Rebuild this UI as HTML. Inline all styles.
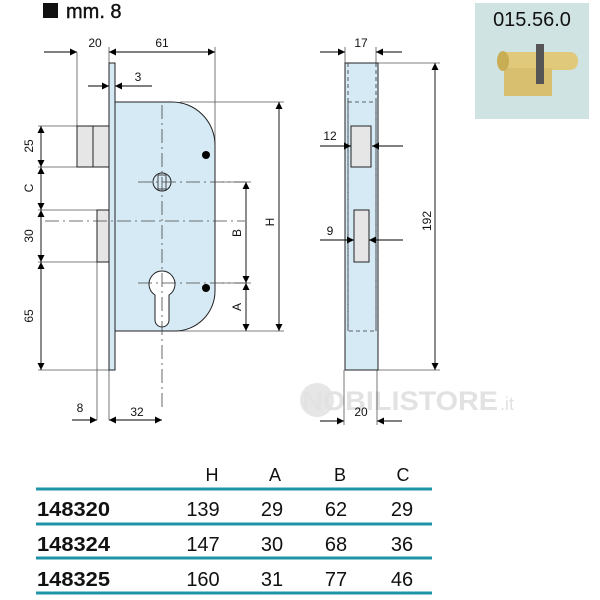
<!DOCTYPE html>
<html><head><meta charset="utf-8"><style>
body{margin:0;background:#fff}
svg{display:block}
text{font-family:"Liberation Sans",sans-serif}
</style></head><body>
<svg width="600" height="600" viewBox="0 0 600 600" xmlns="http://www.w3.org/2000/svg">
<defs>
<marker id="a" viewBox="0 0 10 10" refX="10" refY="5" markerWidth="10" markerHeight="7" orient="auto-start-reverse" markerUnits="userSpaceOnUse"><path d="M0,0L10,5L0,10z" fill="#000"/></marker>
</defs>
<!-- title -->
<rect x="43" y="3" width="15" height="15" fill="#111"/>
<text x="66" y="18" font-size="20" fill="#111" stroke="#111" stroke-width="0.4">mm. 8</text>

<!-- watermark -->
<circle cx="317" cy="400" r="17" fill="#e6e6e6"/>
<text x="302" y="410" font-size="27" font-weight="bold" fill="#e2e2e2" textLength="196" lengthAdjust="spacingAndGlyphs">NOBILISTORE</text>
<text x="500" y="410" font-size="18" fill="#e2e2e2">.it</text>

<g stroke="#555" stroke-width="0.8" fill="none">
<line x1="77" y1="52" x2="77" y2="126"/>
<line x1="215" y1="47" x2="215" y2="150"/>
<line x1="109" y1="47" x2="109" y2="63"/>
<line x1="115" y1="80" x2="115" y2="102"/>
<line x1="180" y1="102" x2="284" y2="102"/>
<line x1="160" y1="331" x2="284" y2="331"/>
<line x1="222" y1="182" x2="251" y2="182"/>
<line x1="222" y1="283" x2="251" y2="283"/>
<line x1="38" y1="126" x2="77" y2="126"/>
<line x1="38" y1="167" x2="77" y2="167"/>
<line x1="38" y1="210" x2="97" y2="210"/>
<line x1="38" y1="262" x2="97" y2="262"/>
<line x1="38" y1="370" x2="109" y2="370"/>
<line x1="97" y1="262" x2="97" y2="420"/>
<line x1="109" y1="370" x2="109" y2="420"/>
<line x1="345" y1="47" x2="345" y2="63"/>
<line x1="376" y1="47" x2="376" y2="63"/>
<line x1="378" y1="63" x2="440" y2="63"/>
<line x1="378" y1="370" x2="440" y2="370"/>
<line x1="344" y1="370" x2="344" y2="425"/>
<line x1="377" y1="370" x2="377" y2="425"/>
</g>

<!-- bolts -->
<rect x="77" y="126" width="32" height="41" fill="#e6e6e6" stroke="#222" stroke-width="1"/>
<line x1="93" y1="126" x2="93" y2="167" stroke="#222"/>
<rect x="97" y="210" width="12" height="52" fill="#e6e6e6" stroke="#222" stroke-width="1"/>
<rect x="109" y="63" width="6" height="307" fill="#d6eaf5" stroke="#222" stroke-width="1"/>
<path d="M115,102 H172 A43,43 0 0 1 215,145 V291 A40,40 0 0 1 175,331 H115 Z" fill="#d6eaf5" stroke="#222" stroke-width="1"/>
<circle cx="162" cy="182" r="9" fill="none" stroke="#222"/>
<rect x="158" y="175" width="8" height="14" fill="none" stroke="#222" stroke-width="0.8"/>
<path d="M155,295 A13,13 0 1 1 169,295 V320 A7,7 0 0 1 155,320 Z" fill="#fff" stroke="#222"/>
<circle cx="206" cy="155" r="4" fill="#000"/>
<circle cx="206" cy="288" r="4" fill="#000"/>

<g stroke="#444" stroke-width="0.8" stroke-dasharray="14,4,2,4" fill="none">
<line x1="162" y1="105" x2="162" y2="410"/>
<line x1="138" y1="182" x2="245" y2="182"/>
<line x1="45" y1="221" x2="245" y2="221"/>
<line x1="138" y1="283" x2="245" y2="283"/>
</g>

<!-- faceplate -->
<rect x="345" y="63" width="33" height="307" fill="#d6eaf5" stroke="#222" stroke-width="1"/>
<g stroke="#333" stroke-width="0.8" fill="none" stroke-dasharray="4,3">
<line x1="348" y1="63" x2="348" y2="331"/>
<line x1="376" y1="63" x2="376" y2="331"/>
<rect x="348" y="102" width="28" height="229"/>
</g>
<rect x="351" y="126" width="20" height="41" fill="#e6e6e6" stroke="#222"/>
<rect x="354" y="210" width="15" height="52" fill="#e6e6e6" stroke="#222"/>

<!-- dims -->
<g stroke="#000" stroke-width="0.9" fill="none">
<line x1="44" y1="52" x2="77" y2="52" marker-end="url(#a)"/>
<line x1="109" y1="52" x2="215" y2="52" marker-start="url(#a)" marker-end="url(#a)"/>
<line x1="88" y1="86" x2="109" y2="86" marker-end="url(#a)"/>
<line x1="152" y1="86" x2="115" y2="86" marker-end="url(#a)"/>
<line x1="279" y1="102" x2="279" y2="331" marker-start="url(#a)" marker-end="url(#a)"/>
<line x1="246" y1="182" x2="246" y2="283" marker-start="url(#a)" marker-end="url(#a)"/>
<line x1="246" y1="283" x2="246" y2="331" marker-start="url(#a)" marker-end="url(#a)"/>
<line x1="41" y1="126" x2="41" y2="167" marker-start="url(#a)" marker-end="url(#a)"/>
<line x1="41" y1="167" x2="41" y2="210" marker-start="url(#a)" marker-end="url(#a)"/>
<line x1="41" y1="210" x2="41" y2="262" marker-start="url(#a)" marker-end="url(#a)"/>
<line x1="41" y1="262" x2="41" y2="370" marker-start="url(#a)" marker-end="url(#a)"/>
<line x1="72" y1="420" x2="97" y2="420" marker-end="url(#a)"/>
<line x1="109" y1="420" x2="162" y2="420" marker-start="url(#a)" marker-end="url(#a)"/>
<line x1="320" y1="52" x2="345" y2="52" marker-end="url(#a)"/>
<line x1="402" y1="52" x2="376" y2="52" marker-end="url(#a)"/>
<line x1="435" y1="63" x2="435" y2="370" marker-start="url(#a)" marker-end="url(#a)"/>
<line x1="320" y1="146" x2="351" y2="146" marker-end="url(#a)"/>
<line x1="403" y1="146" x2="372" y2="146" marker-end="url(#a)"/>
<line x1="320" y1="240" x2="354" y2="240" marker-end="url(#a)"/>
<line x1="403" y1="240" x2="369" y2="240" marker-end="url(#a)"/>
<line x1="320" y1="421" x2="344" y2="421" marker-end="url(#a)"/>
<line x1="402" y1="421" x2="377" y2="421" marker-end="url(#a)"/>
</g>

<g font-size="12" fill="#111">
<text x="95" y="47" text-anchor="middle">20</text>
<text x="162" y="47" text-anchor="middle">61</text>
<text x="138" y="81" text-anchor="middle">3</text>
<text x="80" y="412" text-anchor="middle">8</text>
<text x="137" y="416" text-anchor="middle">32</text>
<text x="361" y="47" text-anchor="middle">17</text>
<text x="330" y="140" text-anchor="middle">12</text>
<text x="330" y="235" text-anchor="middle">9</text>
<text x="361" y="416" text-anchor="middle">20</text>
<text transform="translate(33,146) rotate(-90)" text-anchor="middle">25</text>
<text transform="translate(33,188) rotate(-90)" text-anchor="middle">C</text>
<text transform="translate(33,236) rotate(-90)" text-anchor="middle">30</text>
<text transform="translate(33,316) rotate(-90)" text-anchor="middle">65</text>
<text transform="translate(274,222) rotate(-90)" text-anchor="middle">H</text>
<text transform="translate(241,233) rotate(-90)" text-anchor="middle">B</text>
<text transform="translate(241,307) rotate(-90)" text-anchor="middle">A</text>
<text transform="translate(431,221) rotate(-90)" text-anchor="middle">192</text>
</g>

<!-- photo -->
<rect x="475" y="3" width="114" height="116" fill="#cfe3e3"/>
<text x="532" y="26" font-size="20" text-anchor="middle" fill="#111">015.56.0</text>
<rect x="500" y="52" width="78" height="18" rx="8" fill="#e0c97a"/>
<rect x="504" y="68" width="48" height="28" fill="#d8bf70"/>
<rect x="536" y="44" width="8" height="40" fill="#555"/>
<ellipse cx="503" cy="61" rx="6" ry="10" fill="#c9ad55"/>

<!-- table -->
<g font-size="20" fill="#111">
<text x="212" y="481" text-anchor="middle" font-size="18">H</text>
<text x="275" y="481" text-anchor="middle" font-size="18">A</text>
<text x="340" y="481" text-anchor="middle" font-size="18">B</text>
<text x="403" y="481" text-anchor="middle" font-size="18">C</text>
<text x="37" y="516" font-weight="bold" textLength="73" lengthAdjust="spacingAndGlyphs">148320</text>
<text x="37" y="551" font-weight="bold" textLength="73" lengthAdjust="spacingAndGlyphs">148324</text>
<text x="37" y="586" font-weight="bold" textLength="73" lengthAdjust="spacingAndGlyphs">148325</text>
<g text-anchor="middle">
<text x="203" y="516">139</text><text x="272" y="516">29</text><text x="336" y="516">62</text><text x="402" y="516">29</text>
<text x="203" y="551">147</text><text x="272" y="551">30</text><text x="336" y="551">68</text><text x="402" y="551">36</text>
<text x="203" y="586">160</text><text x="272" y="586">31</text><text x="336" y="586">77</text><text x="402" y="586">46</text>
</g>
</g>
<g stroke="#1f93a8" stroke-width="3">
<line x1="36" y1="489" x2="432" y2="489"/>
<line x1="36" y1="524" x2="432" y2="524"/>
<line x1="36" y1="558" x2="432" y2="558"/>
<line x1="36" y1="593" x2="432" y2="593"/>
</g>
</svg>
</body></html>
